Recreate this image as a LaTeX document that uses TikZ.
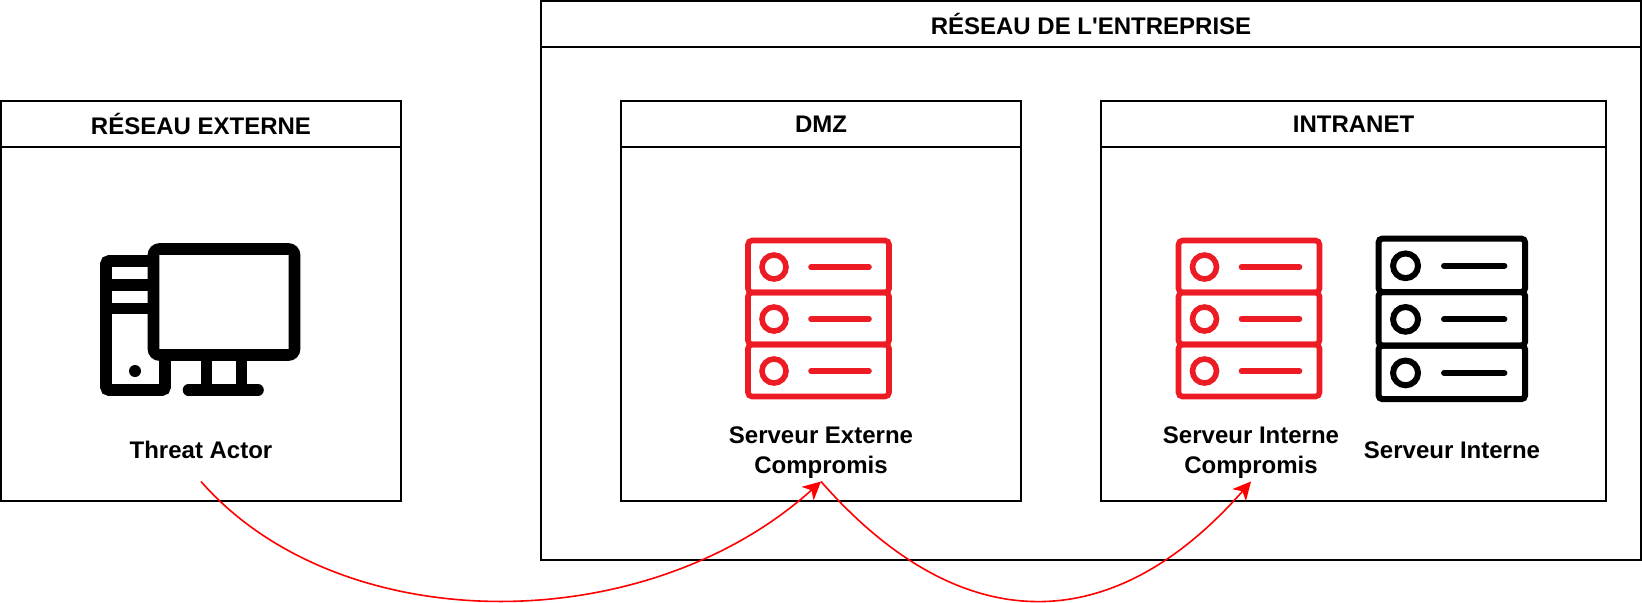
\documentclass[tikz,border=0pt]{standalone}
\usepackage{fontspec}
\setmainfont{Liberation Sans}[Ligatures=TeXOff]
\usetikzlibrary{arrows.meta}

\definecolor{srvred}{HTML}{ED1C24}

\tikzset{
  lane/.style={draw, line width=1pt, inner sep=0pt, outer sep=0pt, anchor=north west},
  head/.style={draw, line width=1pt, inner sep=0pt, outer sep=0pt, anchor=north west, minimum height=23pt, font=\bfseries\fontsize{12}{14}\selectfont},
  caption/.style={inner sep=0pt, outer sep=0pt, minimum height=31.5pt, align=center, font=\bfseries\fontsize{12}{15}\selectfont},
  captwo/.style={caption, minimum height=28.5pt},
  flow/.style={red, line width=0.8pt, -{Stealth[length=9pt, width=9pt, inset=2.5pt]}},
  srv/.pic={
    \draw [rounded corners=2pt] (0,0) rectangle (141,52);
    \draw [rounded corners=2pt] (0,52) rectangle (141,104);
    \draw [rounded corners=2pt] (0,104) rectangle (141,156);
    \foreach \y in {26.5,78.5,130.5} {
      \draw (26,\y) circle (6pt);
      \draw [line cap=round] (63,\y) -- (121,\y);
    }
  },
  desktop/.pic={
    \draw [line width=5.8pt, rounded corners=1.5pt] (148,261) -- (106,261) -- (106,390) -- (165,390) -- (165,355);
    \draw [line width=5.8pt] (106,285) -- (148,285);
    \draw [line width=5.8pt] (106,308.5) -- (148,308.5);
    \fill (135,371) circle (3pt);
    \draw [line width=5.8pt, rounded corners=3pt] (153.5,249) rectangle (294.5,355);
    \draw [line width=5.8pt] (206.5,355) -- (206.5,390);
    \draw [line width=5.8pt] (241.5,355) -- (241.5,390);
    \draw [line width=5.8pt, line cap=round] (188.5,390) -- (258,390);
  }
}

\begin{document}
\begin{tikzpicture}[x=0.5pt, y=-0.5pt]
\useasboundingbox (0,0) rectangle (1642,602);

\node [lane, minimum width=200pt, minimum height=200pt] (externe) at (1,101) {};
\node [head, minimum width=200pt] (externehead) at (externe.north west) {RÉSEAU EXTERNE};

\node [lane, minimum width=550pt, minimum height=279.7pt] (entreprise) at (541,1) {};
\node [head, minimum width=550pt] (entreprisehead) at (entreprise.north west) {RÉSEAU DE L'ENTREPRISE};

\node [lane, minimum width=200pt, minimum height=200pt] (dmz) at (621,101) {};
\node [head, minimum width=200pt] (dmzhead) at (dmz.north west) {DMZ};

\node [lane, minimum width=252.5pt, minimum height=200pt] (intranet) at (1101,101) {};
\node [head, minimum width=252.5pt] (intranethead) at (intranet.north west) {INTRANET};

\pic at (0,0) {desktop};
\pic [srvred, line width=2.8pt] at (748,240.5) {srv};
\pic [srvred, line width=2.8pt] at (1178.5,240.5) {srv};
\pic [black, line width=3pt, xscale=1.04, yscale=1.03] at (1378.5,238.5) {srv};

\node [caption] (threat) at (201,450) {Threat Actor};
\node [captwo] (srvext) at (821,453) {Serveur Externe\\Compromis};
\node [captwo] (srvint) at (1251,453) {Serveur Interne\\Compromis};
\node [caption] (srvsain) at (1452,450) {Serveur Interne};

\draw [flow] (threat.south) .. controls (340,640) and (645,640) .. (srvext.south);
\draw [flow] (srvext.south) .. controls (960,640) and (1112,640) .. (srvint.south);
\end{tikzpicture}
\end{document}
